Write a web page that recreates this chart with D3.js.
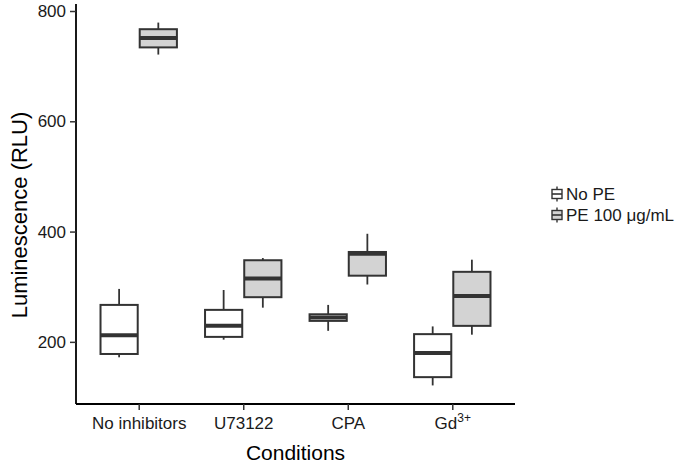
<!DOCTYPE html>
<html>
<head>
<meta charset="utf-8">
<script src="https://cdn.jsdelivr.net/npm/d3@7"></script>
<style>
  body { margin: 0; background: #fff; }
  text { font-family: "Liberation Sans", Arial, sans-serif; }
</style>
</head>
<body>
<div id="chart"></div>
<script>
var svgWidth = 691;
var svgHeight = 467;

// categories and groups
var conditions = ["No inhibitors", "U73122", "CPA", "Gd"];
var groups = ["No PE", "PE 100 \u03bcg/mL"];
var yTicks = [200, 400, 600, 800];

// box stats: [min, q1, median, q3, max]
var noPE = [
  [172, 178, 212, 267, 296],
  [204, 209, 229, 258, 294],
  [220, 238, 244, 250, 267],
  [121, 136, 180, 214, 228]
];
var pe100 = [
  [721, 734, 751, 767, 779],
  [262, 281, 315, 348, 352],
  [304, 320, 360, 363, 396],
  [213, 229, 283, 327, 349]
];
var fills = ["#ffffff", "#d3d3d3"];

var plotLeft = 76, plotRight = 515, plotTop = 4, plotBottom = 404;

var svg = d3.select("#chart")
  .append("svg")
  .attr("width", svgWidth)
  .attr("height", svgHeight);

var x = d3.scalePoint()
  .domain(conditions)
  .range([plotLeft, plotRight])
  .padding(0.6);

var step = x.step();
var dodge = d3.scaleBand()
  .domain(groups)
  .range([-0.375 * step, 0.375 * step]);

var y = d3.scaleLinear()
  .domain([87.3, 812.7])
  .range([plotBottom, plotTop]);

var stroke = "#333333";

// boxes
var data = [];
conditions.forEach(function(c, i) {
  data.push({cond: c, group: groups[0], s: noPE[i], fill: fills[0]});
  data.push({cond: c, group: groups[1], s: pe100[i], fill: fills[1]});
});

var boxes = svg.append("g").selectAll("g")
  .data(data)
  .enter()
  .append("g")
  .attr("transform", d => `translate(${x(d.cond) + dodge(d.group)},0)`);

var bw = dodge.bandwidth();

boxes.append("line")
  .attr("x1", bw / 2).attr("x2", bw / 2)
  .attr("y1", d => y(d.s[4])).attr("y2", d => y(d.s[3]))
  .attr("stroke", stroke).attr("stroke-width", 1.8);

boxes.append("line")
  .attr("x1", bw / 2).attr("x2", bw / 2)
  .attr("y1", d => y(d.s[1])).attr("y2", d => y(d.s[0]))
  .attr("stroke", stroke).attr("stroke-width", 1.8);

boxes.append("rect")
  .attr("x", 1)
  .attr("width", bw - 2)
  .attr("y", d => y(d.s[3]))
  .attr("height", d => y(d.s[1]) - y(d.s[3]))
  .attr("fill", d => d.fill)
  .attr("stroke", stroke).attr("stroke-width", 2);

boxes.append("line")
  .attr("x1", 1).attr("x2", bw - 1)
  .attr("y1", d => y(d.s[2])).attr("y2", d => y(d.s[2]))
  .attr("stroke", stroke).attr("stroke-width", 4);

// axes
var yAxis = svg.append("g")
  .attr("transform", `translate(${plotLeft},0)`)
  .call(d3.axisLeft(y).tickValues(yTicks).tickSize(6).tickPadding(4));

var xAxis = svg.append("g")
  .attr("transform", `translate(0,${plotBottom})`)
  .call(d3.axisBottom(x).tickSize(6).tickPadding(7).tickFormat(function(d) {
    return d === "Gd" ? "" : d;
  }));

[xAxis, yAxis].forEach(function(a) {
  a.select(".domain").attr("stroke", "#000").attr("stroke-width", 1.8);
  a.selectAll(".tick line").attr("stroke", "#333").attr("stroke-width", 1.5);
  a.selectAll(".tick text").attr("fill", "#1a1a1a").style("font-size", "17px");
});
xAxis.select(".domain").attr("d", `M${plotLeft},0H${plotRight}`);
yAxis.select(".domain").attr("d", `M0,${plotTop}V${plotBottom}`);

// Gd3+ label with superscript
var gdText = xAxis.selectAll(".tick")
  .filter(d => d === "Gd")
  .select("text");
gdText.append("tspan").text("Gd");
gdText.append("tspan").text("3+").attr("dy", -7).style("font-size", "12px");

// axis titles
svg.append("text")
  .attr("x", (plotLeft + plotRight) / 2)
  .attr("y", 460)
  .attr("text-anchor", "middle")
  .style("font-size", "21px")
  .attr("fill", "#000")
  .text("Conditions");

svg.append("text")
  .attr("transform", `translate(27,${(plotTop + plotBottom) / 2 + 11}) rotate(-90)`)
  .attr("text-anchor", "middle")
  .style("font-size", "22px")
  .attr("fill", "#000")
  .text("Luminescence (RLU)");

// legend
var legend = svg.append("g")
  .attr("transform", "translate(552,194)");

var items = legend.selectAll("g")
  .data(groups)
  .enter()
  .append("g")
  .attr("transform", (d, i) => `translate(0,${i * 21})`);

items.append("line")
  .attr("x1", 5).attr("x2", 5).attr("y1", -7.5).attr("y2", 7.5)
  .attr("stroke", stroke).attr("stroke-width", 1.4);
items.append("rect")
  .attr("x", 0).attr("y", -4.5).attr("width", 10).attr("height", 9)
  .attr("fill", (d, i) => fills[i])
  .attr("stroke", stroke).attr("stroke-width", 1.4);
items.append("line")
  .attr("x1", 0).attr("x2", 10).attr("y1", 0).attr("y2", 0)
  .attr("stroke", stroke).attr("stroke-width", 1.6);
items.append("text")
  .attr("x", 14)
  .attr("y", 6)
  .style("font-size", "17px")
  .attr("fill", "#1a1a1a")
  .text(d => d);
</script>
</body>
</html>
